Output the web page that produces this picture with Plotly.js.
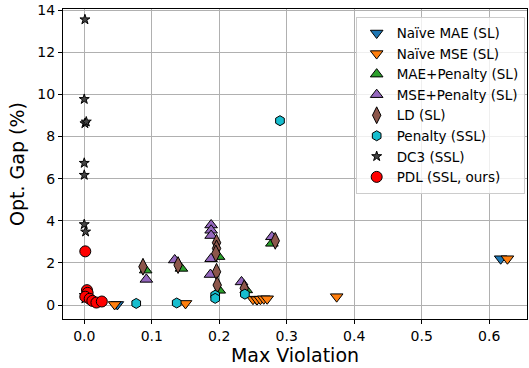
<!DOCTYPE html>
<html>
<head>
<meta charset="utf-8">
<script src="https://cdn.plot.ly/plotly-3.0.1.min.js"></script>
<style>html,body{margin:0;padding:0;background:#fff;}#chart{width:529px;height:368px;}</style>
</head>
<body>
<div id="chart"></div>
<script>
// Data (Max Violation, Opt. Gap %)
const naiveMaeX = [0.049, 0.255, 0.617];
const naiveMaeY = [0.03, 0.28, 2.2];
const naiveMseX = [0.045, 0.150, 0.250, 0.256, 0.261, 0.266, 0.271, 0.374, 0.627];
const naiveMseY = [0.03, 0.08, 0.28, 0.26, 0.28, 0.30, 0.30, 0.40, 2.2];
const maePenX = [0.091, 0.144, 0.199, 0.200, 0.278, 0.240];
const maePenY = [1.66, 1.74, 2.30, 0.70, 2.93, 0.72];
const msePenX = [0.092, 0.134, 0.188, 0.188, 0.188, 0.188, 0.187, 0.233, 0.278];
const msePenY = [1.22, 2.14, 3.80, 3.55, 3.30, 2.20, 1.45, 1.10, 3.24];
const ldX = [0.087, 0.139, 0.196, 0.196, 0.195, 0.196, 0.197, 0.283, 0.237];
const ldY = [1.82, 1.90, 2.96, 2.69, 2.45, 1.58, 0.95, 3.05, 0.80];
const penX = [0.077, 0.137, 0.194, 0.194, 0.238, 0.290];
const penY = [0.08, 0.10, 0.47, 0.32, 0.52, 8.75];
const dc3X = [0.001, 0.000, 0.001, 0.003, 0.000, 0.000, 0.000, 0.002, 0.000, 0.001];
const dc3Y = [13.55, 9.77, 8.62, 8.70, 6.74, 6.17, 3.83, 3.48, 0.47, 0.30];
const pdlX = [0.0015, 0.004, 0.005, 0.0015, 0.008, 0.012, 0.018, 0.026];
const pdlY = [2.55, 0.71, 0.58, 0.40, 0.30, 0.20, 0.12, 0.17];

const xTicks = [0.0, 0.1, 0.2, 0.3, 0.4, 0.5, 0.6];
const yTicks = [0, 2, 4, 6, 8, 10, 12, 14];

function tr(name, x, y, symbol, color, size) {
  return {
    type: 'scatter', mode: 'markers', name: name, x: x, y: y,
    marker: {symbol: symbol, color: color, size: size, line: {color: '#000', width: 1}}
  };
}

const data = [
  tr('Naïve MAE (SL)', naiveMaeX, naiveMaeY, 'triangle-down', '#1f77b4', 11),
  tr('Naïve MSE (SL)', naiveMseX, naiveMseY, 'triangle-down', '#ff7f0e', 11),
  tr('MAE+Penalty (SL)', maePenX, maePenY, 'triangle-up', '#2ca02c', 11),
  tr('MSE+Penalty (SL)', msePenX, msePenY, 'triangle-up', '#9467bd', 11),
  tr('LD (SL)', ldX, ldY, 'diamond-tall', '#8c564b', 12),
  tr('Penalty (SSL)', penX, penY, 'hexagon', '#17becf', 10),
  tr('DC3 (SSL)', dc3X, dc3Y, 'star', '#444444', 7.5),
  tr('PDL (SSL, ours)', pdlX, pdlY, 'circle', '#ff0000', 11)
];

const layout = {
  width: 529, height: 368,
  margin: {l: 63, r: 2, t: 9, b: 49},
  paper_bgcolor: '#fff', plot_bgcolor: '#fff',
  font: {family: 'DejaVu Sans', size: 14, color: '#000'},
  showlegend: true,
  legend: {
    x: 0.995, xanchor: 'right', y: 0.975, yanchor: 'top',
    bgcolor: 'rgba(255,255,255,0.8)', bordercolor: '#cccccc', borderwidth: 1,
    font: {family: 'DejaVu Sans', size: 13.5, color: '#000'},
    tracegroupgap: 0
  },
  xaxis: {
    range: [-0.0315, 0.656],
    tickvals: xTicks, ticktext: xTicks.map(v => v.toFixed(1)),
    tickfont: {size: 14},
    showgrid: true, gridcolor: '#b0b0b0', gridwidth: 1,
    zeroline: false, showline: true, linecolor: '#000', linewidth: 1, mirror: true,
    ticks: 'outside', ticklen: 4, tickcolor: '#000',
    title: {text: 'Max Violation', font: {size: 19}, standoff: 5}
  },
  yaxis: {
    range: [-0.66, 14.05],
    tickvals: yTicks, ticktext: yTicks.map(String),
    tickfont: {size: 14},
    showgrid: true, gridcolor: '#b0b0b0', gridwidth: 1,
    zeroline: false, showline: true, linecolor: '#000', linewidth: 1, mirror: true,
    ticks: 'outside', ticklen: 4, tickcolor: '#000',
    title: {text: 'Opt. Gap (%)', font: {size: 19}, standoff: 7}
  }
};

Plotly.newPlot('chart', data, layout, {displayModeBar: false, staticPlot: true});
</script>
</body>
</html>
